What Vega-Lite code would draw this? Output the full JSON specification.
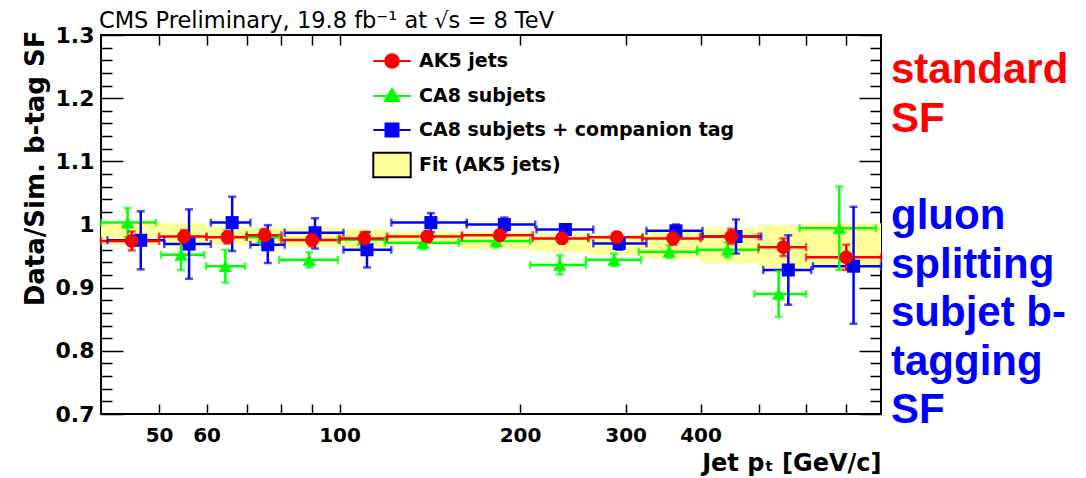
{
  "$schema": "https://vega.github.io/schema/vega-lite/v6.json",
  "background": "white",
  "padding": {"left": 20, "top": 8, "right": 5, "bottom": 0},
  "bounds": "flush",
  "spacing": 9,
  "resolve": {"scale": {"color": "independent", "x": "independent", "y": "independent"}},
  "config": {"font": "DejaVu Sans", "axis": {"grid": false, "domain": false}},
  "datasets": {
    "pts": [
      {"series": "CA8 subjets", "x": 44.3, "xlo": 40, "xhi": 49.4, "y": 1.003, "ylo": 0.98, "yhi": 1.026},
      {"series": "CA8 subjets", "x": 54.4, "xlo": 50.4, "xhi": 59.5, "y": 0.952, "ylo": 0.928, "yhi": 0.976},
      {"series": "CA8 subjets", "x": 64.5, "xlo": 59.9, "xhi": 69.6, "y": 0.934, "ylo": 0.908, "yhi": 0.96},
      {"series": "CA8 subjets", "x": 74.5, "xlo": 69.8, "xhi": 79.5, "y": 0.98, "ylo": 0.968, "yhi": 0.992},
      {"series": "CA8 subjets", "x": 89, "xlo": 79.3, "xhi": 99.3, "y": 0.944, "ylo": 0.932, "yhi": 0.956},
      {"series": "CA8 subjets", "x": 109.5, "xlo": 99.3, "xhi": 119, "y": 0.976, "ylo": 0.964, "yhi": 0.988},
      {"series": "CA8 subjets", "x": 137.8, "xlo": 119, "xhi": 158, "y": 0.971, "ylo": 0.961, "yhi": 0.981},
      {"series": "CA8 subjets", "x": 182.5, "xlo": 158, "xhi": 208, "y": 0.974, "ylo": 0.964, "yhi": 0.984},
      {"series": "CA8 subjets", "x": 233, "xlo": 208, "xhi": 257.6, "y": 0.936, "ylo": 0.921, "yhi": 0.951},
      {"series": "CA8 subjets", "x": 287, "xlo": 257.6, "xhi": 318.5, "y": 0.944, "ylo": 0.934, "yhi": 0.954},
      {"series": "CA8 subjets", "x": 354.7, "xlo": 315.5, "xhi": 395, "y": 0.957, "ylo": 0.947, "yhi": 0.967},
      {"series": "CA8 subjets", "x": 443.8, "xlo": 395, "xhi": 499, "y": 0.96, "ylo": 0.948, "yhi": 0.972},
      {"series": "CA8 subjets", "x": 540, "xlo": 492, "xhi": 600, "y": 0.89, "ylo": 0.854, "yhi": 0.926},
      {"series": "CA8 subjets", "x": 681.6, "xlo": 585, "xhi": 785, "y": 0.994, "ylo": 0.928, "yhi": 1.06},
      {"series": "CA8 subjets + companion tag", "x": 46.6, "xlo": 41, "xhi": 51, "y": 0.975, "ylo": 0.929, "yhi": 1.021},
      {"series": "CA8 subjets + companion tag", "x": 56.1, "xlo": 51, "xhi": 61, "y": 0.969, "ylo": 0.914, "yhi": 1.024},
      {"series": "CA8 subjets + companion tag", "x": 66.2, "xlo": 61, "xhi": 71, "y": 1.003, "ylo": 0.958, "yhi": 1.044},
      {"series": "CA8 subjets + companion tag", "x": 75.9, "xlo": 71, "xhi": 81, "y": 0.968, "ylo": 0.939, "yhi": 0.999},
      {"series": "CA8 subjets + companion tag", "x": 91, "xlo": 81, "xhi": 101.5, "y": 0.987, "ylo": 0.962, "yhi": 1.01},
      {"series": "CA8 subjets + companion tag", "x": 111.1, "xlo": 101.5, "xhi": 122, "y": 0.96, "ylo": 0.932, "yhi": 0.988},
      {"series": "CA8 subjets + companion tag", "x": 142, "xlo": 122, "xhi": 163, "y": 1.003, "ylo": 0.988, "yhi": 1.018},
      {"series": "CA8 subjets + companion tag", "x": 188.3, "xlo": 163, "xhi": 212, "y": 1.0, "ylo": 0.989, "yhi": 1.011},
      {"series": "CA8 subjets + companion tag", "x": 238, "xlo": 213, "xhi": 265, "y": 0.992, "ylo": 0.984, "yhi": 1.0},
      {"series": "CA8 subjets + companion tag", "x": 292.7, "xlo": 265, "xhi": 325, "y": 0.97, "ylo": 0.96, "yhi": 0.979},
      {"series": "CA8 subjets + companion tag", "x": 364, "xlo": 325, "xhi": 403, "y": 0.99, "ylo": 0.98, "yhi": 1.0},
      {"series": "CA8 subjets + companion tag", "x": 458.4, "xlo": 403, "xhi": 505, "y": 0.981, "ylo": 0.954, "yhi": 1.008},
      {"series": "CA8 subjets + companion tag", "x": 560.4, "xlo": 509, "xhi": 612, "y": 0.928, "ylo": 0.873, "yhi": 0.983},
      {"series": "CA8 subjets + companion tag", "x": 720, "xlo": 616, "xhi": 800, "y": 0.934, "ylo": 0.843, "yhi": 1.028},
      {"series": "AK5 jets", "x": 45, "xlo": 40, "xhi": 50, "y": 0.974, "ylo": 0.959, "yhi": 0.989},
      {"series": "AK5 jets", "x": 55, "xlo": 50, "xhi": 60, "y": 0.981, "ylo": 0.971, "yhi": 0.991},
      {"series": "AK5 jets", "x": 65, "xlo": 60, "xhi": 70, "y": 0.98, "ylo": 0.97, "yhi": 0.99},
      {"series": "AK5 jets", "x": 75, "xlo": 70, "xhi": 80, "y": 0.983, "ylo": 0.973, "yhi": 0.993},
      {"series": "AK5 jets", "x": 90, "xlo": 80, "xhi": 100, "y": 0.9755, "ylo": 0.9655, "yhi": 0.9855},
      {"series": "AK5 jets", "x": 110, "xlo": 100, "xhi": 120, "y": 0.978, "ylo": 0.968, "yhi": 0.988},
      {"series": "AK5 jets", "x": 140, "xlo": 120, "xhi": 160, "y": 0.981, "ylo": 0.973, "yhi": 0.989},
      {"series": "AK5 jets", "x": 185, "xlo": 160, "xhi": 210, "y": 0.983, "ylo": 0.975, "yhi": 0.991},
      {"series": "AK5 jets", "x": 235, "xlo": 210, "xhi": 260, "y": 0.978, "ylo": 0.97, "yhi": 0.986},
      {"series": "AK5 jets", "x": 290, "xlo": 260, "xhi": 320, "y": 0.98, "ylo": 0.972, "yhi": 0.988},
      {"series": "AK5 jets", "x": 360, "xlo": 320, "xhi": 400, "y": 0.978, "ylo": 0.968, "yhi": 0.988},
      {"series": "AK5 jets", "x": 450, "xlo": 400, "xhi": 500, "y": 0.981, "ylo": 0.969, "yhi": 0.993},
      {"series": "AK5 jets", "x": 550, "xlo": 500, "xhi": 600, "y": 0.964, "ylo": 0.95, "yhi": 0.978},
      {"series": "AK5 jets", "x": 700, "xlo": 600, "xhi": 800, "y": 0.948, "ylo": 0.928, "yhi": 0.968}
    ],
    "fit": [
      {"lo": 40, "hi": 50, "ylo": 0.968, "yhi": 1.002},
      {"lo": 50, "hi": 60, "ylo": 0.969, "yhi": 1.002},
      {"lo": 60, "hi": 70, "ylo": 0.968, "yhi": 0.997},
      {"lo": 70, "hi": 80, "ylo": 0.965, "yhi": 0.995},
      {"lo": 80, "hi": 100, "ylo": 0.965, "yhi": 0.995},
      {"lo": 100, "hi": 120, "ylo": 0.962, "yhi": 0.993},
      {"lo": 120, "hi": 160, "ylo": 0.968, "yhi": 0.989},
      {"lo": 160, "hi": 210, "ylo": 0.961, "yhi": 0.989},
      {"lo": 210, "hi": 260, "ylo": 0.957, "yhi": 0.986},
      {"lo": 260, "hi": 320, "ylo": 0.952, "yhi": 0.983},
      {"lo": 320, "hi": 400, "ylo": 0.946, "yhi": 0.988},
      {"lo": 400, "hi": 500, "ylo": 0.939, "yhi": 0.994},
      {"lo": 500, "hi": 600, "ylo": 0.931, "yhi": 0.999},
      {"lo": 600, "hi": 800, "ylo": 0.928, "yhi": 1.002}
    ],
    "note": [
      {"line": 0, "text": "standard", "group": "standard SF"},
      {"line": 1, "text": "SF", "group": "standard SF"},
      {"line": 3, "text": "gluon", "group": "gluon splitting subjet b-tagging SF"},
      {"line": 4, "text": "splitting", "group": "gluon splitting subjet b-tagging SF"},
      {"line": 5, "text": "subjet b-", "group": "gluon splitting subjet b-tagging SF"},
      {"line": 6, "text": "tagging", "group": "gluon splitting subjet b-tagging SF"},
      {"line": 7, "text": "SF", "group": "gluon splitting subjet b-tagging SF"}
    ]
  },
  "hconcat": [
    {
      "width": 780,
      "height": 379,
      "view": {"stroke": "black", "strokeWidth": 2},
      "title": {"text": "CMS Preliminary, 19.8 fb⁻¹ at √s = 8 TeV", "anchor": "start", "frame": "group", "font": "DejaVu Sans", "fontSize": 22.5, "fontWeight": "normal", "color": "black", "baseline": "alphabetic", "offset": -26, "dx": -2},
      "resolve": {"scale": {"shape": "independent", "fill": "independent", "stroke": "independent"}, "axis": {"x": "independent", "y": "independent"}},
      "layer": [
        {
          "data": {"name": "fit"},
          "mark": {"type": "rect", "color": "#ffff99"},
          "encoding": {
            "x": {"field": "lo", "type": "quantitative", "scale": {"type": "log", "domain": [40, 800], "nice": false},
              "axis": {"orient": "bottom", "values": [50, 60, 70, 80, 90, 100, 200, 300, 400, 500, 600, 700],
                "labelExpr": "indexof([50,60,100,200,300,400], datum.value) >= 0 ? format(datum.value, 'd') : ''",
                "labelFont": "DejaVu Sans", "labelFontWeight": "bold", "labelFontSize": 20, "labelColor": "black",
                "labelPadding": 21, "labelOverlap": false, "labelFlush": false, "labelBound": false, "labelBaseline": "top",
                "tickSize": -10, "tickColor": "black", "tickWidth": 1.5,
                "title": "Jet pₜ [GeV/c]", "titleFont": "DejaVu Sans", "titleFontWeight": "bold", "titleFontSize": 24, "titleColor": "black", "titleAnchor": "end", "titlePadding": 6}},
            "x2": {"field": "hi"},
            "y": {"field": "ylo", "type": "quantitative", "scale": {"domain": [0.7, 1.3], "nice": false, "zero": false},
              "axis": {"orient": "left", "values": [0.7, 0.72, 0.74, 0.76, 0.78, 0.8, 0.82, 0.84, 0.86, 0.88, 0.9, 0.92, 0.94, 0.96, 0.98, 1, 1.02, 1.04, 1.06, 1.08, 1.1, 1.12, 1.14, 1.16, 1.18, 1.2, 1.22, 1.24, 1.26, 1.28, 1.3],
                "labelExpr": "abs(datum.value*10 - round(datum.value*10)) < 0.01 ? (datum.value == 1 ? '1' : format(datum.value, '.1f')) : ''",
                "labelFont": "DejaVu Sans", "labelFontWeight": "bold", "labelFontSize": 22, "labelColor": "black",
                "labelPadding": 29, "labelOverlap": false, "labelFlush": false, "labelBound": false,
                "tickSize": {"condition": {"test": "abs(datum.value*10 - round(datum.value*10)) < 0.01", "value": -22}, "value": -11},
                "tickColor": "black", "tickWidth": 1.5,
                "title": "Data/Sim. b-tag SF", "titleFont": "DejaVu Sans", "titleFontWeight": "bold", "titleFontSize": 26, "titleColor": "black",
                "titleAnchor": "end", "titleBaseline": "alphabetic", "titleX": -58, "titleY": -5, "titleAngle": -90, "titleAlign": "right"}},
            "y2": {"field": "yhi"}
          }
        },
        {
          "data": {"name": "pts"},
          "mark": {"type": "rule", "strokeWidth": 2.5},
          "encoding": {
            "x": {"field": "xlo", "type": "quantitative", "scale": {"type": "log", "domain": [40, 800], "nice": false},
              "axis": {"orient": "top", "values": [50, 60, 70, 80, 90, 100, 200, 300, 400, 500, 600, 700], "labels": false, "title": null,
                "tickSize": -10, "tickColor": "black", "tickWidth": 1.5, "minExtent": 0, "maxExtent": 0}},
            "x2": {"field": "xhi"},
            "y": {"field": "y", "type": "quantitative", "scale": {"domain": [0.7, 1.3], "nice": false, "zero": false},
              "axis": {"orient": "right", "values": [0.7, 0.72, 0.74, 0.76, 0.78, 0.8, 0.82, 0.84, 0.86, 0.88, 0.9, 0.92, 0.94, 0.96, 0.98, 1, 1.02, 1.04, 1.06, 1.08, 1.1, 1.12, 1.14, 1.16, 1.18, 1.2, 1.22, 1.24, 1.26, 1.28, 1.3], "labels": false, "title": null,
                "tickSize": {"condition": {"test": "abs(datum.value*10 - round(datum.value*10)) < 0.01", "value": -22}, "value": -11},
                "tickColor": "black", "tickWidth": 1.5, "minExtent": 0, "maxExtent": 0}},
            "color": {"field": "series", "type": "nominal", "scale": {"domain": ["AK5 jets", "CA8 subjets", "CA8 subjets + companion tag"], "range": ["#ff0000", "#00ff00", "#0000ff"]}, "legend": null}
          }
        },
        {
          "data": {"name": "pts"},
          "mark": {"type": "rule", "strokeWidth": 2.5},
          "encoding": {
            "x": {"field": "x", "type": "quantitative", "scale": {"type": "log", "domain": [40, 800], "nice": false}, "axis": null},
            "y": {"field": "ylo", "type": "quantitative", "scale": {"domain": [0.7, 1.3], "nice": false, "zero": false}, "axis": null},
            "y2": {"field": "yhi"},
            "color": {"field": "series", "type": "nominal", "scale": {"domain": ["AK5 jets", "CA8 subjets", "CA8 subjets + companion tag"], "range": ["#ff0000", "#00ff00", "#0000ff"]}, "legend": null}
          }
        },
        {
          "data": {"name": "pts"},
          "transform": [{"fold": ["xlo", "xhi"], "as": ["end", "xcap"]}],
          "mark": {"type": "tick", "orient": "vertical", "size": 8, "thickness": 2.5},
          "encoding": {
            "x": {"field": "xcap", "type": "quantitative", "scale": {"type": "log", "domain": [40, 800], "nice": false}, "axis": null},
            "y": {"field": "y", "type": "quantitative", "scale": {"domain": [0.7, 1.3], "nice": false, "zero": false}, "axis": null},
            "color": {"field": "series", "type": "nominal", "scale": {"domain": ["AK5 jets", "CA8 subjets", "CA8 subjets + companion tag"], "range": ["#ff0000", "#00ff00", "#0000ff"]}, "legend": null}
          }
        },
        {
          "data": {"name": "pts"},
          "transform": [{"fold": ["ylo", "yhi"], "as": ["end", "ycap"]}],
          "mark": {"type": "tick", "orient": "horizontal", "size": 8, "thickness": 2.5},
          "encoding": {
            "x": {"field": "x", "type": "quantitative", "scale": {"type": "log", "domain": [40, 800], "nice": false}, "axis": null},
            "y": {"field": "ycap", "type": "quantitative", "scale": {"domain": [0.7, 1.3], "nice": false, "zero": false}, "axis": null},
            "color": {"field": "series", "type": "nominal", "scale": {"domain": ["AK5 jets", "CA8 subjets", "CA8 subjets + companion tag"], "range": ["#ff0000", "#00ff00", "#0000ff"]}, "legend": null}
          }
        },
        {
          "data": {"name": "pts"},
          "mark": {"type": "point", "filled": true, "opacity": 1, "strokeWidth": 0},
          "encoding": {
            "x": {"field": "x", "type": "quantitative", "scale": {"type": "log", "domain": [40, 800], "nice": false}, "axis": null},
            "y": {"field": "y", "type": "quantitative", "scale": {"domain": [0.7, 1.3], "nice": false, "zero": false}, "axis": null},
            "color": {"field": "series", "type": "nominal", "scale": {"domain": ["AK5 jets", "CA8 subjets", "CA8 subjets + companion tag"], "range": ["#ff0000", "#00ff00", "#0000ff"]}, "legend": null},
            "shape": {"field": "series", "type": "nominal", "scale": {"domain": ["AK5 jets", "CA8 subjets", "CA8 subjets + companion tag"], "range": ["circle", "triangle-up", "square"]}, "legend": null},
            "size": {"field": "series", "type": "nominal", "scale": {"domain": ["AK5 jets", "CA8 subjets", "CA8 subjets + companion tag"], "range": [190, 170, 200]}, "legend": null}
          }
        },
        {
          "data": {"name": "pts"},
          "mark": {"type": "point", "filled": true, "opacity": 0, "strokeWidth": 2},
          "encoding": {
            "x": {"field": "x", "type": "quantitative", "scale": {"type": "log", "domain": [40, 800], "nice": false}, "axis": null},
            "y": {"field": "y", "type": "quantitative", "scale": {"domain": [0.7, 1.3], "nice": false, "zero": false}, "axis": null},
            "fill": {"field": "series", "type": "nominal",
              "scale": {"domain": ["AK5 jets", "CA8 subjets", "CA8 subjets + companion tag", "Fit (AK5 jets)"], "range": ["#ff0000", "#00ff00", "#0000ff", "#ffff99"]},
              "legend": {"title": null, "orient": "none", "legendX": 273, "legendY": 8, "padding": 0, "labelFont": "DejaVu Sans", "labelFontWeight": "bold", "labelFontSize": 19, "labelColor": "black", "labelOffset": 9, "labelLimit": 500, "rowPadding": 6, "symbolSize": 1156, "symbolStrokeWidth": 2, "symbolOpacity": 1,
                "encode": {"symbols": {"update": {"opacity": {"value": 1}, "fillOpacity": {"value": 1}, "strokeOpacity": {"value": 1}}}}}},
            "stroke": {"field": "series", "type": "nominal",
              "scale": {"domain": ["AK5 jets", "CA8 subjets", "CA8 subjets + companion tag", "Fit (AK5 jets)"], "range": ["#ff0000", "#00ff00", "#0000ff", "#000000"]},
              "legend": {"title": null, "orient": "none", "legendX": 273, "legendY": 8, "padding": 0, "labelFont": "DejaVu Sans", "labelFontWeight": "bold", "labelFontSize": 19, "labelColor": "black", "labelOffset": 9, "labelLimit": 500, "rowPadding": 6, "symbolSize": 1156, "symbolStrokeWidth": 2, "symbolOpacity": 1}},
            "shape": {"field": "series", "type": "nominal",
              "scale": {"domain": ["AK5 jets", "CA8 subjets", "CA8 subjets + companion tag", "Fit (AK5 jets)"], "range": ["M-1.1,0H1.1M0.4,0A0.4,0.4,0,1,1,-0.4,0A0.4,0.4,0,1,1,0.4,0Z", "M-1.1,0H1.1M0,-0.42L0.42,0.3L-0.42,0.3Z", "M-1.1,0H1.1M-0.38,-0.38H0.38V0.38H-0.38Z", "M-1.1,-0.72H1.1V0.72H-1.1Z"]},
              "legend": {"title": null, "orient": "none", "legendX": 273, "legendY": 8, "padding": 0, "labelFont": "DejaVu Sans", "labelFontWeight": "bold", "labelFontSize": 19, "labelColor": "black", "labelOffset": 9, "labelLimit": 500, "rowPadding": 6, "symbolSize": 1156, "symbolStrokeWidth": 2, "symbolOpacity": 1}}
          }
        }
      ]
    },
    {
      "width": 2,
      "height": 400,
      "view": {"stroke": null},
      "data": {"name": "note"},
      "mark": {"type": "text", "align": "left", "baseline": "alphabetic", "font": "Liberation Sans", "fontSize": 42, "fontWeight": "bold"},
      "encoding": {
        "y": {"field": "line", "type": "quantitative", "scale": {"domain": [-0.994, 7.241], "reverse": true, "nice": false, "zero": false}, "axis": null},
        "text": {"field": "text"},
        "color": {"field": "group", "type": "nominal", "scale": {"domain": ["standard SF", "gluon splitting subjet b-tagging SF"], "range": ["#ff0000", "#0000ff"]}, "legend": null}
      }
    }
  ]
}
